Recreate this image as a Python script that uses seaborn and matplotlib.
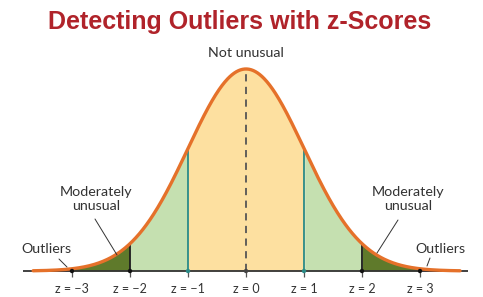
import numpy as np
import pandas as pd
import matplotlib
matplotlib.use("Agg")
import matplotlib.pyplot as plt
import seaborn as sns

# chart values
title = "Detecting Outliers with z-Scores"
z_ticks = [-3, -2, -1, 0, 1, 2, 3]
z_labels = ["z = \u22123", "z = \u22122", "z = \u22121", "z = 0", "z = 1", "z = 2", "z = 3"]
curve_range = [-3.67, 3.69]
mean, sd = 0.0, 1.0
region_edges = [-3.67, -3, -2, -1, 1, 2, 3, 3.69]
region_colors = ["#c8282c", "#5f7a2b", "#c5e0b0", "#fde0a0", "#c5e0b0", "#5f7a2b", "#c8282c"]
edge_lines = [-2, -1, 1, 2]
edge_colors = ["#1a1a1a", "#2a8a86", "#2a8a86", "#1a1a1a"]

x = np.linspace(curve_range[0], curve_range[1], 600)
df = pd.DataFrame({"z": x, "density": np.exp(-0.5 * ((x - mean) / sd) ** 2) / (sd * np.sqrt(2 * np.pi))})


def pdf(v):
    return np.exp(-0.5 * ((v - mean) / sd) ** 2) / (sd * np.sqrt(2 * np.pi))


# pixel helpers for text placement
def X(px):
    return (px - 246) / 58.0


def Y(py):
    return (271 - py) / 506.4


sns.set_style("white")
fig = plt.figure(figsize=(4.83, 2.97), dpi=100)
ax = fig.add_axes([0, 0, 1, 1])
ax.set_xlim(X(0), X(483))
ax.set_ylim(Y(297), Y(0))
ax.axis("off")

# shaded regions
for lo, hi, col in zip(region_edges[:-1], region_edges[1:], region_colors):
    seg = df[(df.z >= lo - 1e-9) & (df.z <= hi + 1e-9)]
    ax.fill_between(seg.z, 0, seg.density, color=col, lw=0, zorder=1)

# boundary lines
for e, col in zip(edge_lines, edge_colors):
    ax.vlines(e, 0, pdf(e), color=col, lw=1.3, zorder=2)
ax.vlines(0, 0, pdf(0), color="#555555", lw=1.3, linestyles=(0, (4, 3)), zorder=2)

# axis line and ticks
ax.hlines(0, X(23), X(468), color="#333333", lw=1.3, zorder=3)
ax.vlines(z_ticks, Y(277), 0, color="#555555", lw=0.9, zorder=3)
dot_colors = ["#111111", "#111111", "#2a8a86", "#444444", "#2a8a86", "#111111", "#111111"]
ax.scatter(z_ticks, [0] * len(z_ticks), s=10, c=dot_colors, zorder=5, lw=0)

# the curve
sns.lineplot(data=df, x="z", y="density", color="#e5712a", lw=2.4, ax=ax, zorder=4)

lab_font = dict(family=["Lato", "DejaVu Sans"], color="#333333")
for t, lab in zip(z_ticks, z_labels):
    ax.text(t, Y(289), lab, ha="center", va="center", fontsize=9, **lab_font)

ax.text(X(246), Y(53), "Not unusual", ha="center", va="center", fontsize=10.3, **lab_font)
ax.text(X(96), Y(199), "Moderately\nunusual", ha="center", va="center", fontsize=10.3,
        linespacing=1.2, **lab_font)
ax.text(X(408), Y(199), "Moderately\nunusual", ha="center", va="center", fontsize=10.3,
        linespacing=1.2, **lab_font)
ax.text(X(46), Y(249), "Outliers", ha="center", va="center", fontsize=10.3, **lab_font)
ax.text(X(440), Y(249), "Outliers", ha="center", va="center", fontsize=10.3, **lab_font)

# pointer lines
for (x0, y0, x1, y1) in [(95, 219, 117, 255), (59, 259, 67, 267), (398, 220, 377, 253), (430, 258, 427, 266)]:
    ax.plot([X(x0), X(x1)], [Y(y0), Y(y1)], color="#333333", lw=0.7, zorder=6)

ax.text(X(240), Y(22), title, ha="center", va="center", fontsize=18, fontweight="bold",
        color="#b0232a", family=["Liberation Sans", "DejaVu Sans"])

fig.savefig("out.png", dpi=100)
